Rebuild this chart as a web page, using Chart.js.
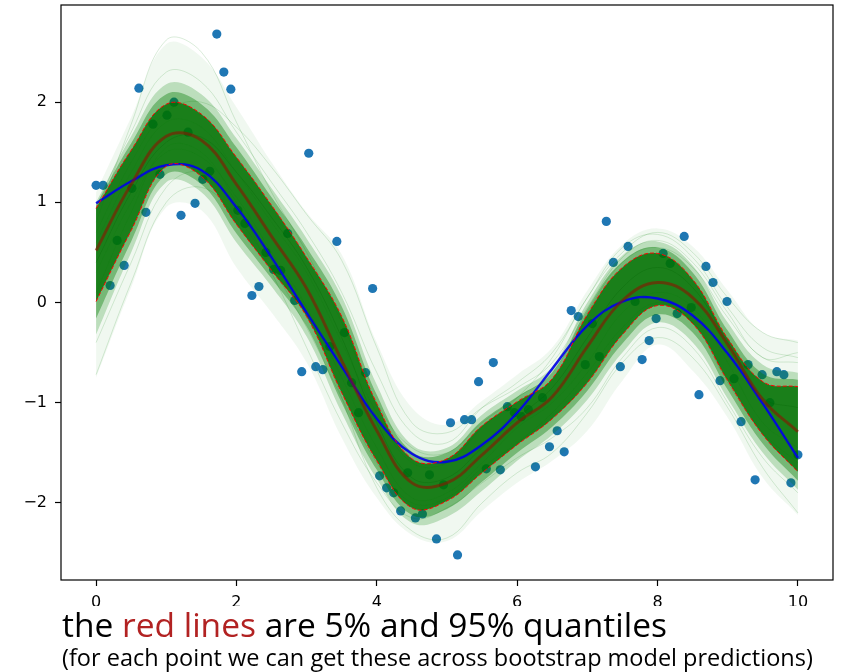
<!DOCTYPE html>
<html>
<head>
<meta charset="utf-8">
<script src="https://cdn.jsdelivr.net/npm/chart.js@4.4.1/dist/chart.umd.min.js"></script>
<style>
  body { margin: 0; background: #fff; }
  #wrap { position: relative; width: 842px; height: 672px; overflow: hidden; }
  #caption { position: absolute; left: 0; top: 606px; width: 842px; height: 66px; background: #fff; font-family: "Open Sans", sans-serif; color: #000; white-space: nowrap; }
  #caption .big { padding-left: 62px; font-size: 33.5px; line-height: 36px; }
  #caption .small { padding-left: 62px; font-size: 23.5px; line-height: 30px; }
  #caption .red { color: #b22222; }
</style>
</head>
<body>
<div id="wrap">
  <canvas id="myChart" width="842" height="672"></canvas>
  <div id="caption">
    <div class="big">the <span class="red">red lines</span> are 5% and 95% quantiles</div>
    <div class="small">(for each point we can get these across bootstrap model predictions)</div>
  </div>
</div>
<script>
// observed points
const pointX = [
  0.00, 0.10, 0.20, 0.30, 0.40, 0.51, 0.61, 0.71, 0.81, 0.91,
  1.01, 1.11, 1.21, 1.31, 1.41, 1.52, 1.62, 1.72, 1.82, 1.92,
  2.02, 2.12, 2.22, 2.32, 2.42, 2.53, 2.63, 2.73, 2.83, 2.93,
  3.03, 3.13, 3.23, 3.33, 3.43, 3.54, 3.64, 3.74, 3.84, 3.94,
  4.04, 4.14, 4.24, 4.34, 4.44, 4.55, 4.65, 4.75, 4.85, 4.95,
  5.05, 5.15, 5.25, 5.35, 5.45, 5.56, 5.66, 5.76, 5.86, 5.96,
  6.06, 6.16, 6.26, 6.36, 6.46, 6.57, 6.67, 6.77, 6.87, 6.97,
  7.07, 7.17, 7.27, 7.37, 7.47, 7.58, 7.68, 7.78, 7.88, 7.98,
  8.08, 8.18, 8.28, 8.38, 8.48, 8.59, 8.69, 8.79, 8.89, 8.99,
  9.09, 9.19, 9.29, 9.39, 9.49, 9.60, 9.70, 9.80, 9.90, 10.00
]
const pointY = [
  1.17, 1.17, 0.17, 0.62, 0.37, 1.14, 2.14, 0.90, 1.78, 1.28,
  1.87, 2.00, 0.87, 1.70, 0.99, 1.23, 1.31, 2.68, 2.30, 2.13,
  0.92, 0.79, 0.07, 0.16, 0.50, 0.33, 0.32, 0.69, 0.02, -0.69,
  1.49, -0.64, -0.67, -0.44, 0.61, -0.30, -0.80, -1.10, -0.70, 0.14,
  -1.73, -1.85, -1.90, -2.08, -1.70, -2.15, -2.11, -1.72, -2.36, -1.82,
  -1.20, -2.52, -1.17, -1.17, -0.79, -1.66, -0.60, -1.67, -1.04, -1.10,
  -1.14, -1.07, -1.64, -0.95, -1.44, -1.28, -1.49, -0.08, -0.14, -0.62,
  -0.21, -0.54, 0.81, 0.40, -0.64, 0.56, 0.01, -0.57, -0.38, -0.16,
  0.49, 0.39, -0.11, 0.66, -0.05, -0.92, 0.36, 0.20, -0.78, 0.01,
  -0.76, -1.19, -0.62, -1.77, -0.72, -1.00, -0.69, -0.72, -1.80, -1.52
]

// curves, sampled every 0.5
const xs = [0, 0.5, 1, 1.5, 2, 2.5, 3, 3.5, 4, 4.5, 5, 5.5, 6, 6.5, 7, 7.5, 8, 8.5, 9, 9.5, 10]
const trueY = [0.99, 1.21, 1.37, 1.32, 0.95, 0.45, -0.10, -0.64, -1.16, -1.51, -1.59, -1.42, -1.10, -0.66, -0.23, 0.01, 0.04, -0.13, -0.51, -1.01, -1.55]
const meanY = [0.52, 1.18, 1.66, 1.62, 1.18, 0.66, 0.14, -0.58, -1.28, -1.80, -1.80, -1.52, -1.20, -0.94, -0.44, 0.02, 0.20, 0.05, -0.42, -0.97, -1.29]
const q95 = [0.94, 1.52, 1.98, 1.88, 1.45, 0.97, 0.45, -0.14, -1.01, -1.56, -1.56, -1.23, -0.99, -0.76, -0.12, 0.35, 0.49, 0.23, -0.36, -0.79, -0.84]
const q05 = [0.01, 0.72, 1.36, 1.26, 0.78, 0.32, -0.14, -0.90, -1.58, -2.05, -1.98, -1.70, -1.42, -1.16, -0.80, -0.32, -0.03, -0.21, -0.78, -1.32, -1.69]

// spread of the bootstrap fits, from the dense edge out to the last stray lines
const innerHi = [0.97, 1.59, 2.08, 1.98, 1.55, 1.05, 0.55, -0.04, -0.92, -1.49, -1.50, -1.18, -0.94, -0.70, -0.06, 0.41, 0.55, 0.30, -0.28, -0.71, -0.77]
const innerLo = [-0.16, 0.61, 1.28, 1.18, 0.69, 0.24, -0.24, -1.00, -1.67, -2.12, -2.06, -1.79, -1.50, -1.24, -0.88, -0.41, -0.12, -0.30, -0.87, -1.41, -1.78]
const midHi = [1.00, 1.66, 2.18, 2.08, 1.64, 1.14, 0.64, 0.06, -0.82, -1.42, -1.45, -1.12, -0.88, -0.64, 0.00, 0.47, 0.61, 0.37, -0.20, -0.62, -0.70]
const midLo = [-0.32, 0.50, 1.20, 1.10, 0.60, 0.16, -0.34, -1.10, -1.76, -2.20, -2.14, -1.88, -1.58, -1.32, -0.97, -0.50, -0.20, -0.40, -0.96, -1.50, -1.87]
const outerHi = [1.10, 1.85, 2.58, 2.45, 1.95, 1.40, 0.90, 0.48, -0.40, -1.05, -1.22, -0.98, -0.72, -0.45, 0.12, 0.58, 0.74, 0.56, 0.12, -0.30, -0.38]
const outerLo = [-0.75, 0.15, 0.95, 0.92, 0.35, -0.10, -0.60, -1.35, -1.95, -2.32, -2.38, -2.08, -1.80, -1.58, -1.28, -0.78, -0.42, -0.68, -1.15, -1.75, -2.12]

// single bootstrap fits that stick out of the bundle
const fit1 = [0.80, 1.78, 2.62, 2.50, 1.80, 1.10, 0.50, -0.20, -1.00, -1.45, -1.50, -1.20, -0.95, -0.70, -0.10, 0.40, 0.55, 0.35, -0.15, -0.55, -0.60]
const fit2 = [-0.72, 0.20, 1.00, 1.15, 0.85, 0.35, -0.25, -0.95, -1.60, -2.00, -1.95, -1.65, -1.40, -1.10, -0.70, -0.25, 0.00, -0.20, -0.80, -1.30, -1.60]
const fit3 = [0.70, 1.40, 1.90, 2.00, 1.75, 1.35, 0.88, 0.42, -0.45, -1.20, -1.30, -1.05, -0.85, -0.60, -0.05, 0.45, 0.62, 0.40, -0.10, -0.55, -0.50]
const fit4 = [0.30, 1.00, 1.50, 1.45, 1.05, 0.50, -0.05, -0.95, -1.85, -2.28, -2.35, -2.00, -1.70, -1.50, -1.10, -0.60, -0.35, -0.55, -1.05, -1.65, -2.10]
const fit5 = [0.60, 1.30, 1.80, 1.75, 1.30, 0.80, 0.30, -0.40, -1.10, -1.60, -1.60, -1.25, -0.95, -0.55, 0.05, 0.50, 0.70, 0.50, 0.05, -0.30, -0.40]
const fit6 = [0.10, 0.90, 1.55, 1.50, 1.00, 0.45, -0.05, -0.75, -1.45, -1.95, -1.90, -1.60, -1.25, -1.00, -0.60, -0.10, 0.10, -0.05, -0.60, -1.20, -1.45]
const fit7 = [-0.40, 0.40, 1.15, 1.30, 0.95, 0.30, -0.45, -1.20, -1.80, -2.15, -2.05, -1.80, -1.55, -1.35, -1.05, -0.55, -0.25, -0.45, -1.00, -1.55, -1.90]
const fit8 = [0.95, 1.70, 2.30, 2.20, 1.70, 1.20, 0.70, 0.10, -0.70, -1.30, -1.40, -1.05, -0.80, -0.50, 0.05, 0.55, 0.68, 0.45, -0.05, -0.45, -0.55]
const fit9 = [0.40, 1.10, 1.60, 1.65, 1.30, 0.85, 0.35, -0.35, -1.20, -1.75, -1.75, -1.45, -1.15, -0.85, -0.35, 0.15, 0.35, 0.15, -0.40, -0.95, -1.05]

const xTicks = [0, 2, 4, 6, 8, 10]
const yTicks = [-2, -1, 0, 1, 2]

function toXY(ys) {
    return xs.map((x, i) => ({x: x, y: ys[i]}))
}

function band(ys, color, fillTo, order) {
    return {
        type: 'line',
        data: toXY(ys),
        borderWidth: 0,
        borderColor: 'rgba(0,0,0,0)',
        backgroundColor: color,
        pointRadius: 0,
        tension: 0.4,
        fill: fillTo,
        order: order
    }
}

function curve(ys, color, width, order, dash) {
    return {
        type: 'line',
        data: toXY(ys),
        borderColor: color,
        borderWidth: width,
        borderDash: dash || [],
        pointRadius: 0,
        tension: 0.4,
        fill: false,
        order: order
    }
}

const framePlugin = {
    id: 'frame',
    afterDraw(chart) {
        let a = chart.chartArea
        let ctx = chart.ctx
        ctx.save()
        ctx.strokeStyle = '#000'
        ctx.lineWidth = 1.2
        ctx.strokeRect(a.left, a.top, a.right - a.left, a.bottom - a.top)
        ctx.restore()
    }
}

let faint = 'rgba(0,128,0,0.15)'
let datasets = [
    {
        type: 'scatter',
        data: pointX.map((x, i) => ({x: x, y: pointY[i]})),
        backgroundColor: '#1f77b4',
        borderWidth: 0,
        pointRadius: 4.6,
        order: 20
    },
    band(outerHi, 'rgba(0,128,0,0.06)', '+1', 16),
    band(outerLo, 'rgba(0,0,0,0)', false, 16),
    band(midHi, 'rgba(0,128,0,0.22)', '+1', 15),
    band(midLo, 'rgba(0,0,0,0)', false, 15),
    band(innerHi, 'rgba(0,120,0,0.38)', '+1', 14),
    band(innerLo, 'rgba(0,0,0,0)', false, 14),
    band(q95, 'rgba(0,112,0,0.78)', '+1', 13),
    band(q05, 'rgba(0,0,0,0)', false, 13),
    curve(trueY, 'rgba(0,0,235,0.9)', 2.4, 12),
    curve(fit1, faint, 1, 10),
    curve(fit2, faint, 1, 10),
    curve(fit3, faint, 1, 10),
    curve(fit4, faint, 1, 10),
    curve(fit5, faint, 1, 10),
    curve(fit6, faint, 1, 10),
    curve(fit7, faint, 1, 10),
    curve(fit8, faint, 1, 10),
    curve(fit9, 'rgba(0,100,0,0.25)', 1, 10),
    curve(meanY, 'rgba(139,20,0,0.6)', 3, 3),
    curve(q95, '#ff0000', 1, 1, [4, 2]),
    curve(q05, '#ff0000', 1, 1, [4, 2])
]

let tickFont = {family: 'DejaVu Sans', size: 16}

new Chart(document.getElementById('myChart'), {
    type: 'scatter',
    data: {datasets: datasets},
    plugins: [framePlugin],
    options: {
        responsive: false,
        animation: false,
        devicePixelRatio: 1,
        layout: {padding: {left: 0, top: 5, right: 9, bottom: 0}},
        plugins: {
            legend: {display: false},
            tooltip: {enabled: false},
            filler: {propagate: false}
        },
        scales: {
            x: {
                type: 'linear',
                min: -0.5,
                max: 10.5,
                border: {display: false},
                grid: {drawOnChartArea: false, drawTicks: true, tickLength: 6, tickColor: '#000', tickWidth: 1.2},
                ticks: {font: tickFont, color: '#000', padding: 7, autoSkip: false, maxRotation: 0},
                afterBuildTicks: s => { s.ticks = xTicks.map(v => ({value: v})) },
                afterFit: s => { s.height = 92; s.paddingLeft = 0; s.paddingRight = 0 }
            },
            y: {
                type: 'linear',
                min: -2.77,
                max: 2.97,
                border: {display: false},
                grid: {drawOnChartArea: false, drawTicks: true, tickLength: 6, tickColor: '#000', tickWidth: 1.2},
                ticks: {
                    font: tickFont,
                    color: '#000',
                    padding: 8,
                    callback: v => (v < 0 ? '\u2212' + Math.abs(v) : '' + v)
                },
                afterBuildTicks: s => { s.ticks = yTicks.map(v => ({value: v})) },
                afterFit: s => { s.width = 61; s.paddingTop = 0; s.paddingBottom = 0 }
            }
        }
    }
})
</script>
</body>
</html>
